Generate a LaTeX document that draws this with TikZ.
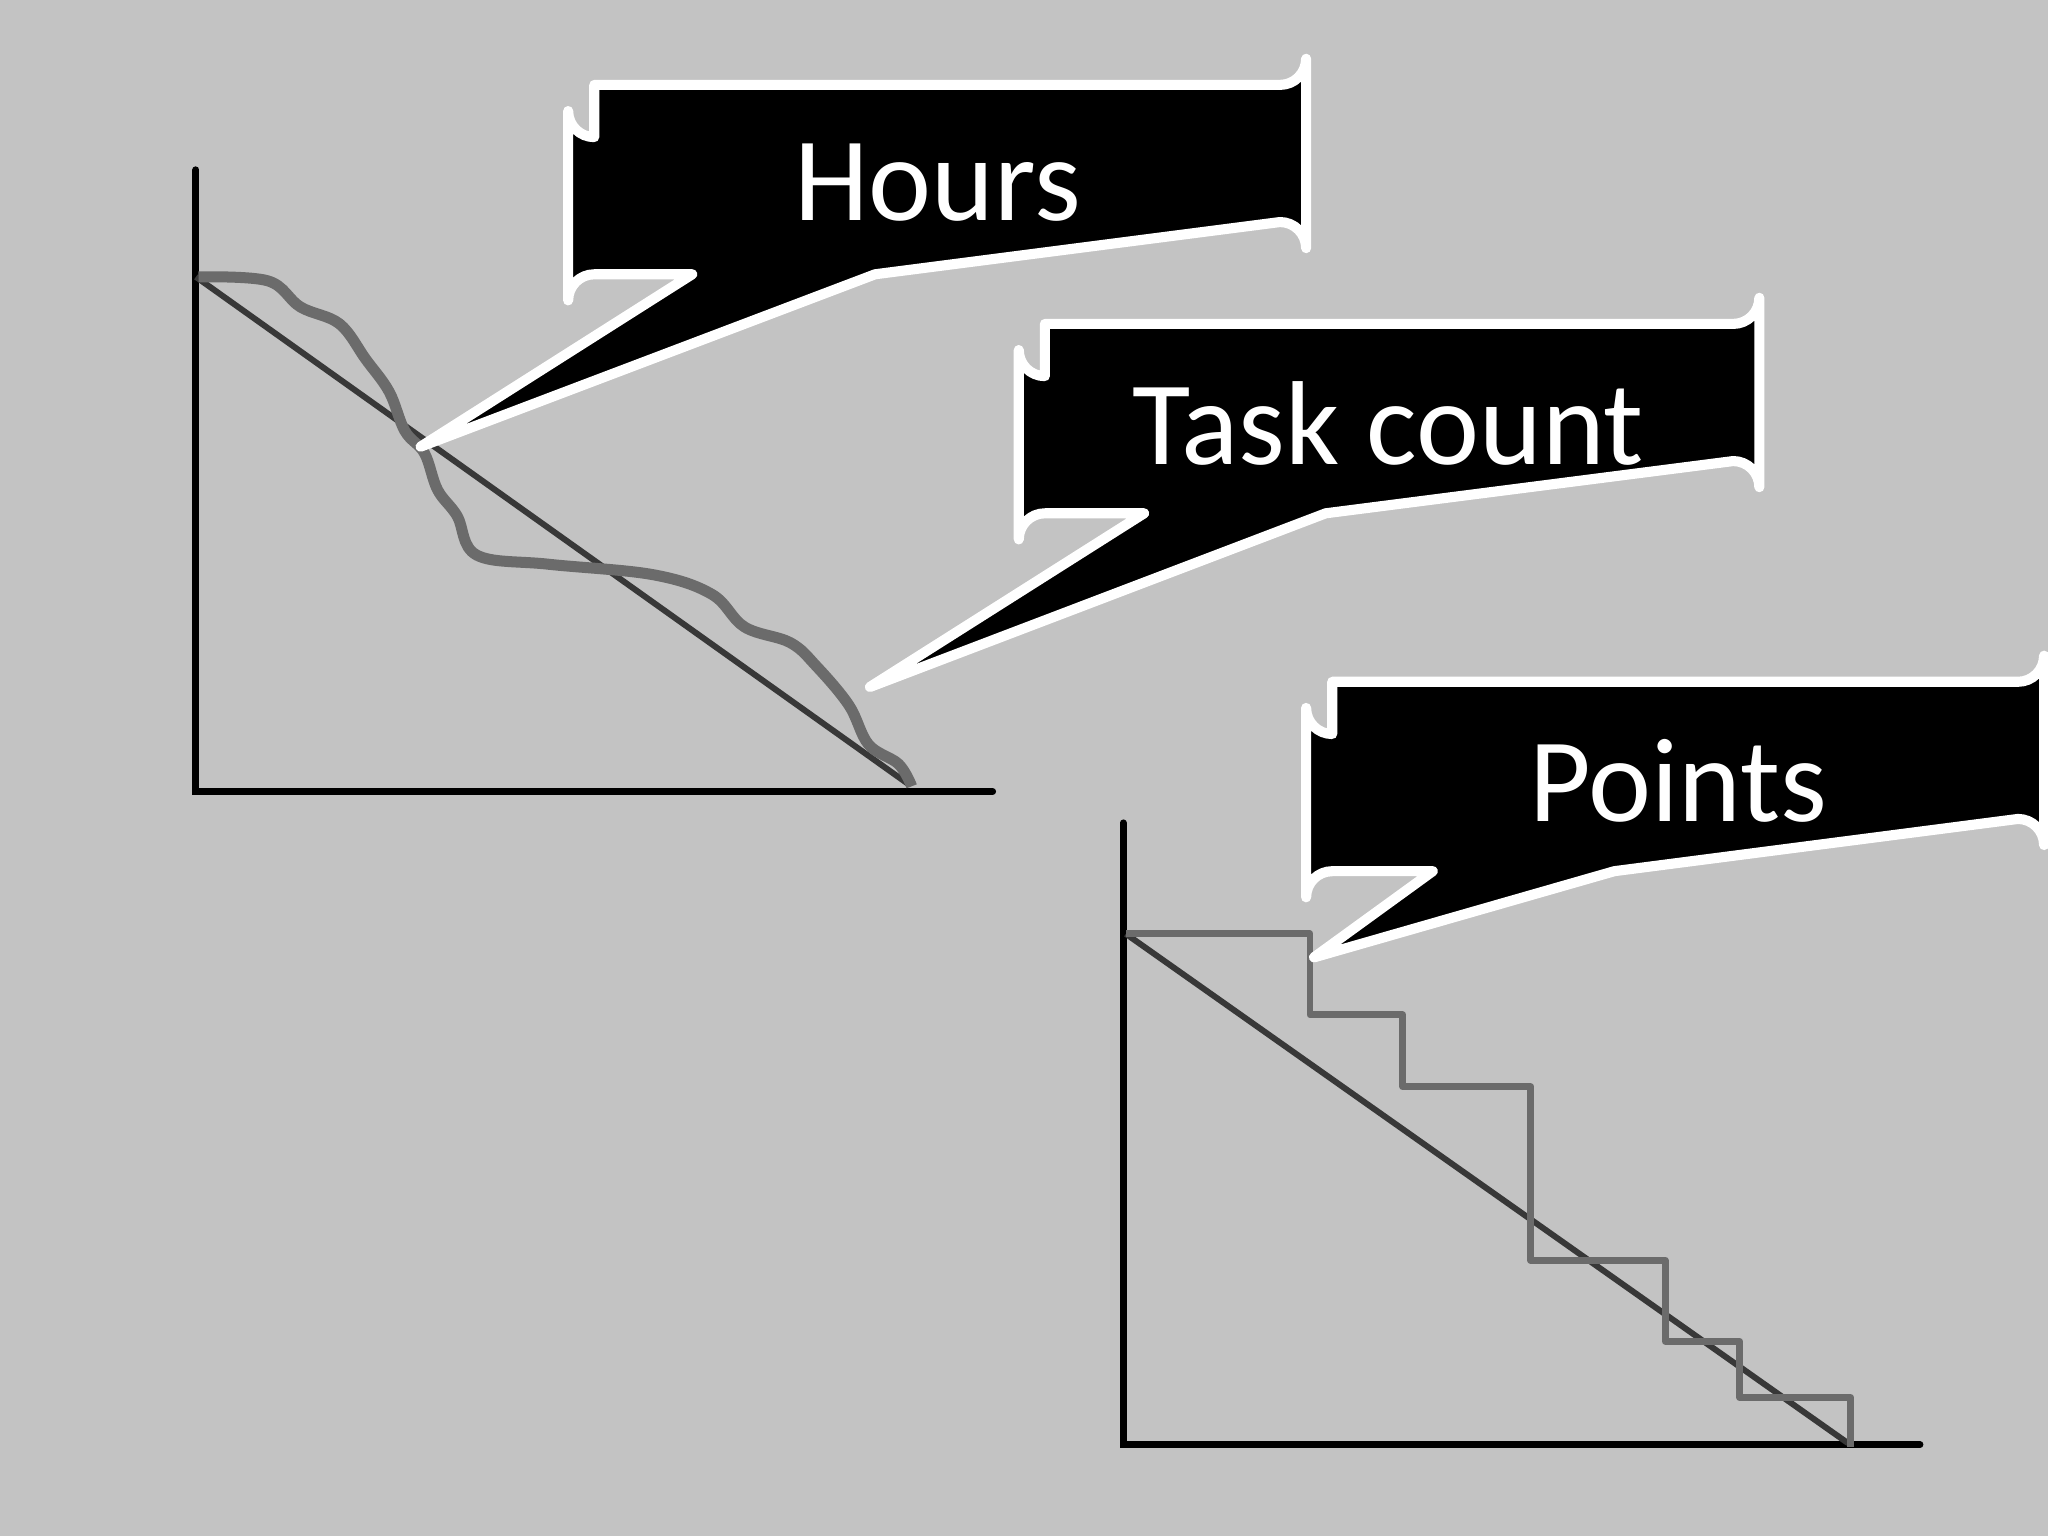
\documentclass[tikz,border=0pt]{standalone}
\usepackage{fontspec}
\setmainfont{Carlito}
\begin{document}
\begin{tikzpicture}[x=0.01cm,y=-0.01cm,
  callout/.style={fill=black,draw=white,line width=2.2pt,line join=round},
  lbl/.style={text=white,font=\fontsize{26}{30}\selectfont},
  axis/.style={black,line width=1.5pt,line cap=round},
  trend/.style={black!78,line width=1.3pt},
  actual/.style={black!58,line width=1.5pt,line join=round}]
\fill[black!23.5] (0,0) rectangle (1568,1176);
\useasboundingbox (0,0) rectangle (1568,1176);
% chart 1
\coordinate (o1) at (150,606);
\draw[axis] (150,130) -- (o1) -- (760,606);
\coordinate (s1) at (150,212); \coordinate (e1) at (695,600);
\draw[trend] (s1) -- (e1);
\draw[actual,line width=2.4pt] plot[smooth,tension=0.6] coordinates {(152,212)(205,215)(230,235)(260,248)(280,275)(298,300)(310,330)(325,347)(335,375)(350,395)(365,425)(420,432)(500,440)(545,455)(570,480)(605,492)(625,510)(650,540)(665,570)(688,585)(698,602)};
% chart 2
\coordinate (o2) at (860,1106);
\draw[axis] (860,630) -- (o2) -- (1470,1106);
\coordinate (s2) at (862,715); \coordinate (e2) at (1415,1105);
\draw[trend] (s2) -- (e2);
\draw[actual] (s2) -- (1003,715) -- (1003,777) -- (1074,777) -- (1074,832) -- (1172,832) -- (1172,965) -- (1275,965) -- (1275,1027) -- (1332,1027) -- (1332,1070) -- (1417,1070) -- (1417,1108);
% callouts
\newcommand{\callbox}[8]{%
 \draw[callout] (#1+20,#2) -- (#3-20,#2) arc[start angle=90,end angle=0,radius=20] -- (#3,#4-20) arc[start angle=0,end angle=-90,radius=20] -- (#7,#4) -- (#5,#6) -- (#8,#4) -- (#1+20,#4) arc[start angle=270,end angle=180,radius=20] -- (#1,#2+20) arc[start angle=180,end angle=90,radius=20] -- cycle;}
\callbox{435}{65}{1000}{210}{322}{342}{670}{530}
\node[lbl] (h) at (718,140) {Hours};
\callbox{780}{248}{1347}{393}{666}{526}{1015}{876}
\node[lbl] (t) at (1063,324) {Task count};
\callbox{1000}{522}{1565}{667}{1006}{733}{1236}{1097}
\node[lbl] (p) at (1285,598) {Points};
\end{tikzpicture}
\end{document}
